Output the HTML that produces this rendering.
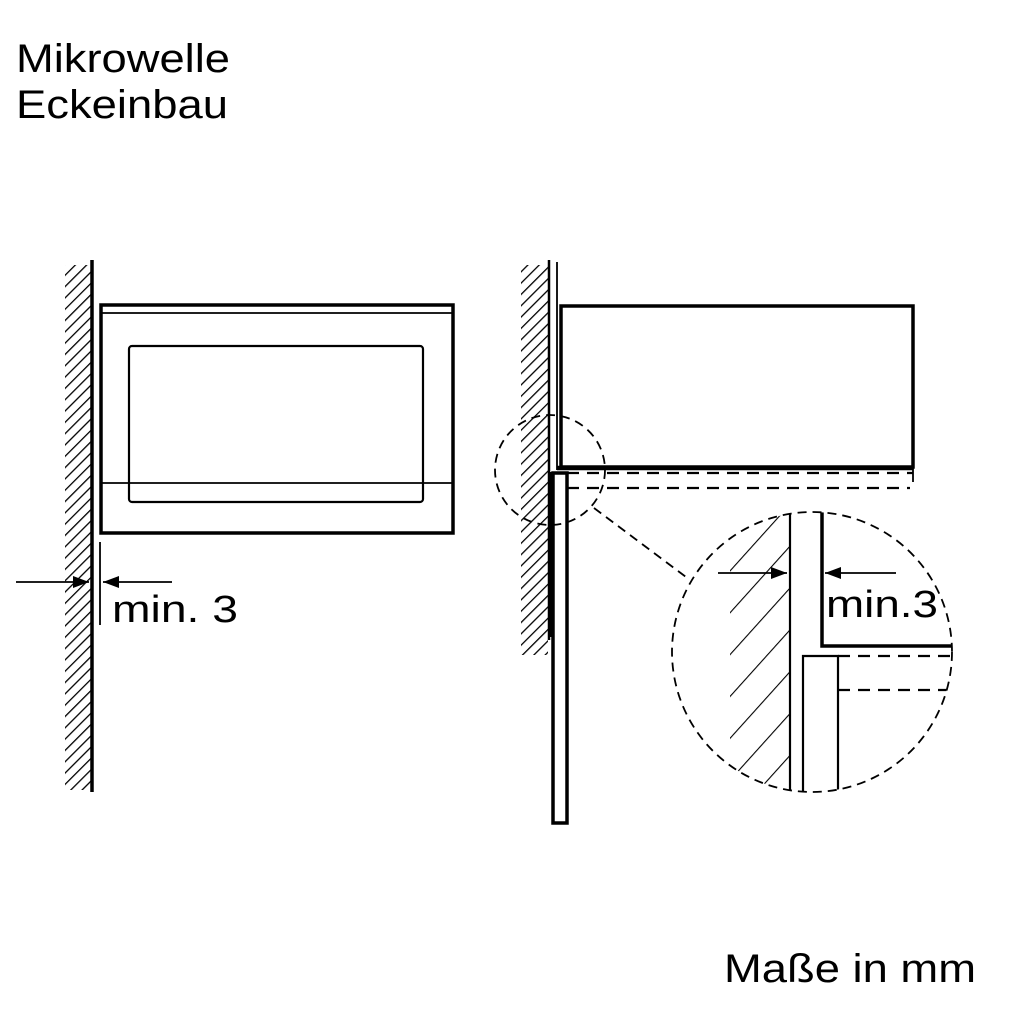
<!DOCTYPE html>
<html><head><meta charset="utf-8"><style>html,body{margin:0;padding:0;background:#fff}svg{display:block}</style></head>
<body>
<svg width="1024" height="1024" viewBox="0 0 1024 1024" xmlns="http://www.w3.org/2000/svg" font-family="Liberation Sans, Arial, sans-serif">
<defs>
<pattern id="h1" patternUnits="userSpaceOnUse" width="8" height="8" patternTransform="rotate(45)">
<line x1="0" y1="0" x2="0" y2="8" stroke="#000" stroke-width="2.6"/>
</pattern>
<pattern id="h2" patternUnits="userSpaceOnUse" width="28" height="28" patternTransform="rotate(42)">
<line x1="0" y1="0" x2="0" y2="28" stroke="#000" stroke-width="2.2"/>
</pattern>
<clipPath id="bigc"><circle cx="812" cy="652" r="140"/></clipPath>
<marker id="ar" markerWidth="16" markerHeight="12" refX="16" refY="6" orient="auto" markerUnits="userSpaceOnUse">
<path d="M0,0 L16,6 L0,12 Z" fill="#000"/></marker>
</defs>
<rect width="1024" height="1024" fill="#fff"/>
<text x="16" y="72" font-size="40" textLength="214" lengthAdjust="spacingAndGlyphs">Mikrowelle</text>
<text x="16" y="118" font-size="40" textLength="212" lengthAdjust="spacingAndGlyphs">Eckeinbau</text>
<text x="724" y="982" font-size="40" textLength="252" lengthAdjust="spacingAndGlyphs">Maße in mm</text>

<!-- left wall -->
<rect x="65" y="265" width="26" height="525" fill="url(#h1)"/>
<line x1="92" y1="260" x2="92" y2="792" stroke="#000" stroke-width="3.5"/>
<rect x="101" y="305" width="352" height="228" fill="none" stroke="#000" stroke-width="3.5"/>
<line x1="101" y1="313" x2="453" y2="313" stroke="#000" stroke-width="1.8"/>
<rect x="129" y="346" width="294" height="156" rx="3" fill="none" stroke="#000" stroke-width="2.2"/>
<line x1="101" y1="483" x2="453" y2="483" stroke="#000" stroke-width="1.8"/>
<line x1="100" y1="542" x2="100" y2="625" stroke="#000" stroke-width="1.8"/>
<line x1="16" y1="582" x2="89" y2="582" stroke="#000" stroke-width="1.8" marker-end="url(#ar)"/>
<line x1="172" y1="582" x2="103" y2="582" stroke="#000" stroke-width="1.8" marker-end="url(#ar)"/>
<text x="112" y="622" font-size="38" textLength="126" lengthAdjust="spacingAndGlyphs">min. 3</text>

<!-- right wall -->
<rect x="521" y="265" width="27" height="390" fill="url(#h1)"/>
<line x1="549" y1="260" x2="549" y2="640" stroke="#000" stroke-width="2.5"/>
<line x1="557" y1="262" x2="557" y2="470" stroke="#000" stroke-width="1.8"/>
<rect x="549" y="472" width="5" height="165" fill="#000"/>
<rect x="553" y="473" width="14" height="350" fill="none" stroke="#000" stroke-width="3.5"/>
<rect x="561" y="306" width="352" height="161" fill="none" stroke="#000" stroke-width="3.5"/>
<line x1="557" y1="468" x2="913" y2="468" stroke="#000" stroke-width="4.5"/>
<line x1="567" y1="473" x2="913" y2="473" stroke="#000" stroke-width="2.2" stroke-dasharray="12,8"/>
<line x1="567" y1="488" x2="910" y2="488" stroke="#000" stroke-width="2.2" stroke-dasharray="12,8"/>
<line x1="913" y1="467" x2="913" y2="482" stroke="#000" stroke-width="1.8"/>
<circle cx="550" cy="470" r="55" fill="none" stroke="#000" stroke-width="1.8" stroke-dasharray="9,6"/>
<line x1="594" y1="508" x2="690" y2="580" stroke="#000" stroke-width="1.8" stroke-dasharray="9,6"/>

<!-- detail circle -->
<g clip-path="url(#bigc)">
<rect x="730" y="500" width="59" height="300" fill="url(#h2)"/>
<line x1="790" y1="510" x2="790" y2="795" stroke="#000" stroke-width="2.2"/>
<path d="M822,510 V646 H960" fill="none" stroke="#000" stroke-width="3.5"/>
<path d="M803,795 V656 H838 V795" fill="none" stroke="#000" stroke-width="2.2"/>
<line x1="838" y1="656" x2="960" y2="656" stroke="#000" stroke-width="2.2" stroke-dasharray="12,8"/>
<line x1="838" y1="690" x2="960" y2="690" stroke="#000" stroke-width="2.2" stroke-dasharray="12,8"/>
</g>
<circle cx="812" cy="652" r="140" fill="none" stroke="#000" stroke-width="1.8" stroke-dasharray="9,6"/>
<line x1="718" y1="573" x2="787" y2="573" stroke="#000" stroke-width="1.8" marker-end="url(#ar)"/>
<line x1="896" y1="573" x2="825" y2="573" stroke="#000" stroke-width="1.8" marker-end="url(#ar)"/>
<text x="826" y="617" font-size="38" textLength="112" lengthAdjust="spacingAndGlyphs">min.3</text>
</svg>
</body></html>
